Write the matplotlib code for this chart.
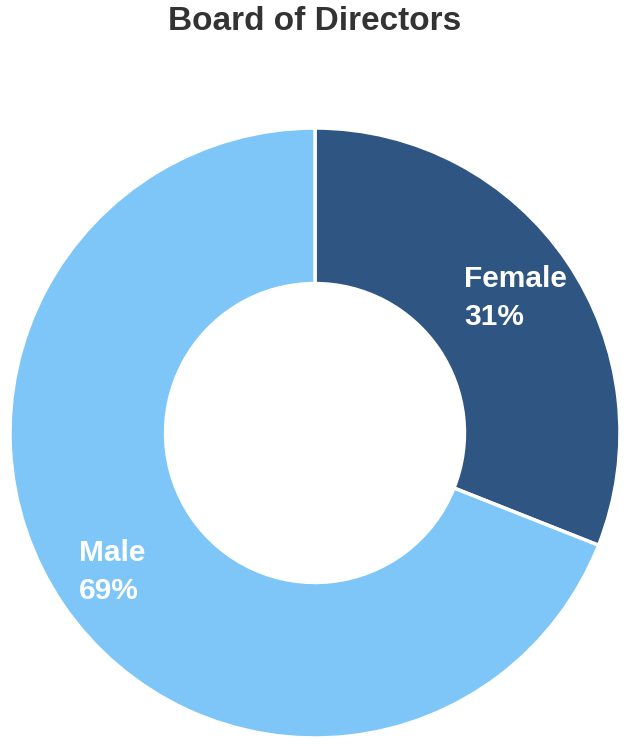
import matplotlib
matplotlib.use("Agg")
import matplotlib.pyplot as plt

categories = ["Female", "Male"]
values = [31, 69]
colors = ["#2F5682", "#7EC6F8"]
title = "Board of Directors"

W, H = 632, 754
fig = plt.figure(figsize=(W / 100, H / 100), dpi=100)
fig.patch.set_facecolor("white")

cx, cy, r = 315, 433, 305
ax = fig.add_axes([(cx - r) / W, (H - cy - r) / H, 2 * r / W, 2 * r / H])
wedges, _ = ax.pie(values, colors=colors, startangle=90, counterclock=False,
                   radius=1.0,
                   wedgeprops=dict(width=0.51, edgecolor="white", linewidth=2.5,
                                   joinstyle="round"))
ax.set_xlim(-1, 1)
ax.set_ylim(-1, 1)
ax.set_aspect("equal")
ax.axis("off")

fig.text(315 / W, 1 - 22 / H, title, ha="center", va="center",
         fontsize=24, fontweight="bold", color="#333333", family="Liberation Sans")

label_pos = {"Female": (464, 265), "Male": (79, 539)}
for cat, val in zip(categories, values):
    x, y = label_pos[cat]
    fig.text(x / W, 1 - y / H, f"{cat}\n{val}%", ha="left", va="top",
             fontsize=21.5, fontweight="bold", color="white",
             family="Liberation Sans", linespacing=1.45)

fig.savefig("out.png", dpi=100, facecolor="white")
